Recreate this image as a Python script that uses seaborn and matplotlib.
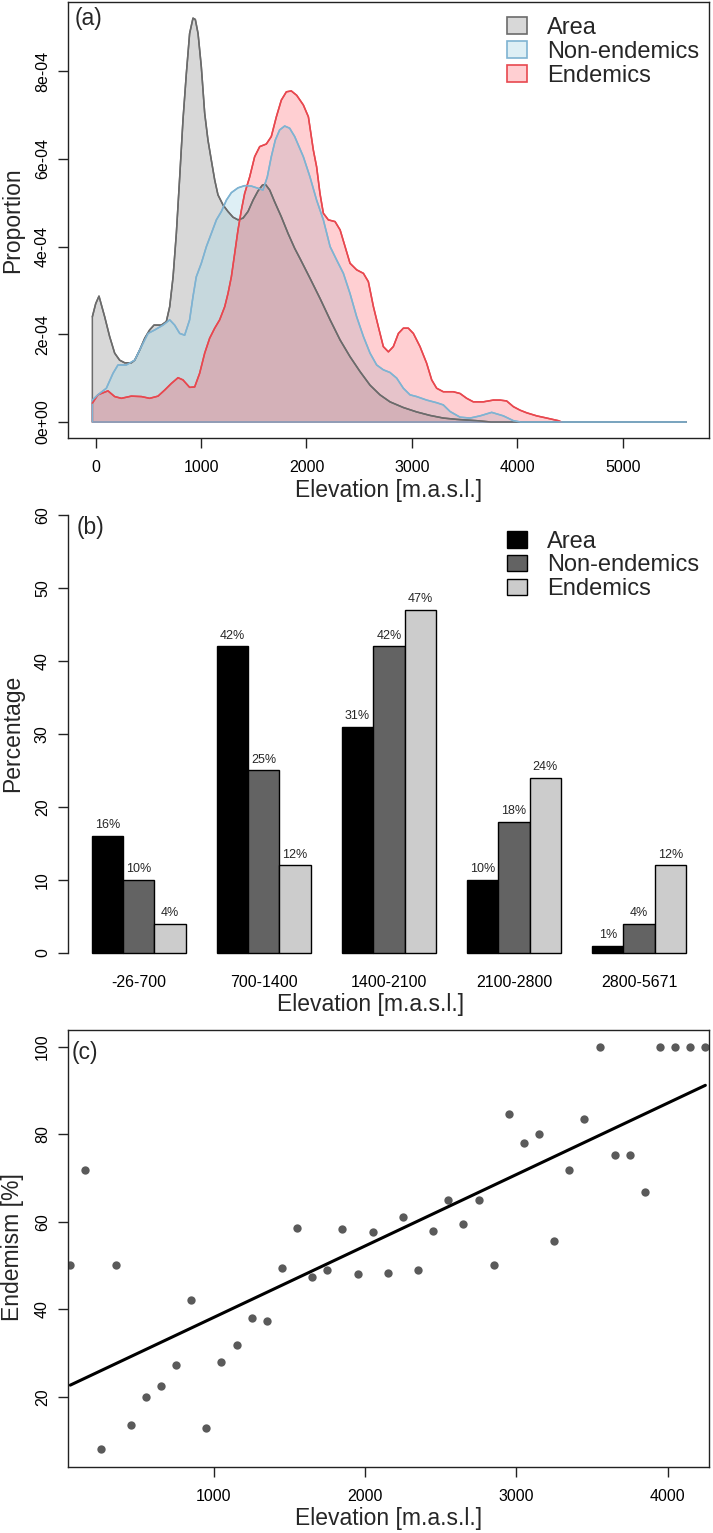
import numpy as np
import pandas as pd
import matplotlib
matplotlib.use("Agg")
import matplotlib.pyplot as plt
import seaborn as sns
from matplotlib.patches import Patch

sns.set_theme(style="white")
plt.rcParams['font.family'] = ['Liberation Sans', 'DejaVu Sans']
plt.rcParams['axes.edgecolor'] = '#222222'
plt.rcParams['axes.linewidth'] = 1.0

# ---------------- (a) density curves (units of 1e-4) ----------------
area_elev = [-32, 0, 31, 85, 132, 180, 227, 275, 338, 370, 417, 465, 512, 553, 623, 670, 702,
             734, 765, 797, 828, 860, 891, 923, 945, 971, 1002, 1034, 1065, 1097, 1129, 1160,
             1208, 1255, 1303, 1350, 1398, 1445, 1493, 1540, 1581, 1610, 1651, 1698, 1761,
             1825, 1888, 1938, 2033, 2128, 2224, 2319, 2413, 2508, 2603, 2697, 2792, 2919,
             3045, 3172, 3298, 3425, 3614, 3750, 5600]
area_dens = [2.40, 2.70, 2.87, 2.40, 1.95, 1.57, 1.41, 1.35, 1.35, 1.41, 1.64, 1.91, 2.10, 2.21,
             2.21, 2.29, 2.63, 3.31, 4.30, 5.59, 6.89, 7.95, 8.86, 9.21, 9.18, 8.86, 8.10, 7.04,
             6.43, 5.97, 5.52, 5.18, 4.95, 4.80, 4.67, 4.61, 4.65, 4.80, 5.06, 5.27, 5.40, 5.42,
             5.29, 5.02, 4.68, 4.30, 3.96, 3.73, 3.28, 2.82, 2.33, 1.87, 1.49, 1.15, 0.84, 0.62,
             0.46, 0.33, 0.23, 0.15, 0.09, 0.06, 0.03, 0.0, 0.0]

nonend_elev = [-32, 21, 101, 164, 211, 290, 370, 433, 496, 560, 638, 702, 749, 797, 844, 891,
               923, 954, 1002, 1050, 1097, 1145, 1192, 1240, 1287, 1350, 1413, 1477, 1540, 1587,
               1628, 1666, 1704, 1745, 1793, 1840, 1888, 1970, 2033, 2096, 2160, 2224, 2287,
               2350, 2413, 2476, 2540, 2603, 2666, 2729, 2792, 2856, 2919, 2982, 3045, 3140,
               3235, 3298, 3362, 3457, 3552, 3647, 3757, 3868, 3963, 4030, 5600]
nonend_dens = [0.50, 0.62, 0.77, 1.11, 1.30, 1.30, 1.41, 1.72, 2.02, 2.10, 2.21, 2.33, 2.21,
               2.02, 1.98, 2.33, 2.86, 3.31, 3.62, 4.00, 4.30, 4.61, 4.80, 5.06, 5.23, 5.34,
               5.39, 5.38, 5.33, 5.29, 5.59, 6.05, 6.43, 6.66, 6.75, 6.70, 6.51, 6.05, 5.59,
               5.06, 4.61, 4.00, 3.69, 3.39, 2.93, 2.40, 1.95, 1.57, 1.30, 1.19, 1.13, 1.00,
               0.77, 0.62, 0.58, 0.50, 0.44, 0.39, 0.24, 0.11, 0.09, 0.14, 0.22, 0.14, 0.03,
               0.0, 0.0]

end_elev = [-32, 21, 116, 180, 243, 338, 433, 512, 591, 655, 718, 781, 828, 891, 939, 986, 1034,
            1081, 1129, 1176, 1224, 1255, 1287, 1319, 1350, 1382, 1413, 1461, 1508, 1556, 1619,
            1666, 1714, 1761, 1809, 1856, 1907, 1970, 2018, 2065, 2096, 2128, 2160, 2207, 2271,
            2319, 2366, 2413, 2476, 2540, 2587, 2635, 2682, 2729, 2777, 2824, 2872, 2919, 2966,
            3014, 3077, 3140, 3188, 3235, 3298, 3393, 3457, 3520, 3583, 3678, 3773, 3836, 3899,
            3963, 4026, 4089, 4184, 4279, 4390, 4420]
end_dens = [0.43, 0.62, 0.71, 0.58, 0.54, 0.59, 0.58, 0.54, 0.59, 0.73, 0.88, 1.01, 0.96, 0.79,
            0.80, 1.11, 1.57, 1.91, 2.14, 2.33, 2.63, 2.93, 3.31, 3.85, 4.38, 4.83, 5.21, 5.59,
            6.05, 6.28, 6.34, 6.51, 6.96, 7.34, 7.53, 7.55, 7.45, 7.23, 6.96, 6.20, 5.82, 5.21,
            4.76, 4.61, 4.57, 4.38, 4.00, 3.62, 3.47, 3.39, 3.20, 2.63, 2.17, 1.72, 1.60, 1.72,
            2.02, 2.14, 2.14, 2.02, 1.72, 1.34, 0.96, 0.77, 0.69, 0.69, 0.65, 0.54, 0.46, 0.46,
            0.50, 0.50, 0.48, 0.35, 0.27, 0.21, 0.14, 0.09, 0.03, 0.0]

a_yticks = [0, 2e-4, 4e-4, 6e-4, 8e-4]
a_yticklabels = ['0e+00', '2e-04', '4e-04', '6e-04', '8e-04']
a_xticks = [0, 1000, 2000, 3000, 4000, 5000]

# ---------------- (b) percentage per elevation band ----------------
bands = ['-26-700', '700-1400', '1400-2100', '2100-2800', '2800-5671']
groups = ['Area', 'Non-endemics', 'Endemics']
area_pct = [16, 42, 31, 10, 1]
nonend_pct = [10, 25, 42, 18, 4]
end_pct = [4, 12, 47, 24, 12]

# ---------------- (c) endemism per 100 m band ----------------
band_mid = [50, 150, 250, 350, 450, 550, 650, 750, 850, 950, 1050, 1150, 1250, 1350, 1450,
            1550, 1650, 1750, 1850, 1950, 2050, 2150, 2250, 2350, 2450, 2550, 2650, 2750,
            2850, 2950, 3050, 3150, 3250, 3350, 3450, 3550, 3650, 3750, 3850, 3950, 4050,
            4150, 4250]
endemism = [50, 71.7, 8, 50, 13.5, 20, 22.4, 27.2, 42.1, 12.8, 28, 31.7, 37.9, 37.3, 49.4,
            58.6, 47.3, 49.0, 58.3, 48.0, 57.6, 48.3, 61.1, 49.0, 57.9, 64.9, 59.4, 64.9,
            50, 84.6, 77.9, 80, 55.6, 71.7, 83.4, 100, 75.2, 75.2, 66.8, 100, 100, 100, 100]

# colours
fill_cols = {'Area': (0.5, 0.5, 0.5, 0.30),
             'Non-endemics': (0.678, 0.847, 0.902, 0.40),
             'Endemics': (1.0, 0.25, 0.30, 0.25)}
line_cols = {'Area': '#6b6b6b', 'Non-endemics': '#7fb3d2', 'Endemics': '#e8484f'}
bar_cols = ['#000000', '#636363', '#cccccc']

W, H = 713, 1533
fig = plt.figure(figsize=(W / 100, H / 100), dpi=100)


def px_axes(x0, x1, y0, y1):
    return fig.add_axes([x0 / W, 1 - y1 / H, (x1 - x0) / W, (y1 - y0) / H])


TICK_FS = 11.5
LAB_FS = 16.5
LEG_FS = 17


def style_ticks(ax, xpad=8.7, ypad=5.8):
    ax.tick_params(axis='both', direction='out', length=7.2, width=1, color='#222222',
                   labelsize=TICK_FS, labelcolor='black', left=True, bottom=True)
    ax.tick_params(axis='x', pad=xpad)
    ax.tick_params(axis='y', pad=ypad)
    for lbl in ax.get_yticklabels():
        lbl.set_rotation(90)
        lbl.set_va('center')


# ---------------- panel (a) ----------------
ax_a = px_axes(68, 709.3, 1.7, 437.7)
curves = {
    'Area': (area_elev, area_dens),
    'Non-endemics': (nonend_elev, nonend_dens),
    'Endemics': (end_elev, end_dens),
}
for name in groups:
    xs, ys = curves[name]
    ax_a.fill_between(xs, np.array(ys) * 1e-4, 0, facecolor=fill_cols[name], edgecolor='none')
for name in ['Area', 'Endemics', 'Non-endemics']:
    xs, ys = curves[name]
    ax_a.fill_between(xs, np.array(ys) * 1e-4, 0, facecolor='none',
                      edgecolor=line_cols[name], linewidth=1.1)
    sns.lineplot(x=xs, y=np.array(ys) * 1e-4, color=line_cols[name], linewidth=1.1,
                 sort=False, estimator=None, ax=ax_a)
ax_a.set_xlim(-263, 5822)
ax_a.set_ylim(-0.358e-4, 9.585e-4)
ax_a.set_xticks(a_xticks)
ax_a.set_yticks(a_yticks, a_yticklabels)
ax_a.set_xlabel('')
ax_a.set_ylabel('')
style_ticks(ax_a)
ax_a.text(0.011, 0.9626, '(a)', transform=ax_a.transAxes, fontsize=LAB_FS, ha='left', va='center')
handles_a = [Patch(facecolor=fill_cols[g], edgecolor=line_cols[g], linewidth=1.2) for g in groups]
ax_a.legend(handles_a, groups, loc='upper left', bbox_to_anchor=(0.6845, 0.965), frameon=False,
            fontsize=LEG_FS, handlelength=0.85, handleheight=0.7, handletextpad=0.85,
            labelspacing=0.08, borderpad=0, borderaxespad=0)

# ---------------- panel (b) ----------------
ax_b = px_axes(68, 709.8, 497.5, 970.5)
df_b = pd.DataFrame({
    'band': bands * 3,
    'group': [g for g in groups for _ in bands],
    'pct': area_pct + nonend_pct + end_pct,
})
sns.barplot(data=df_b, x='band', y='pct', hue='group', hue_order=groups, order=bands,
            palette=bar_cols, saturation=1, width=0.75, gap=0, errorbar=None,
            edgecolor='black', linewidth=1, legend=False, ax=ax_b)
for cont, vals in zip(ax_b.containers, [area_pct, nonend_pct, end_pct]):
    ax_b.bar_label(cont, labels=[f'{v}%' for v in vals], padding=3.5, fontsize=9)
ax_b.set_xlim(-0.565, 4.565)
ax_b.set_ylim(-2.4, 62.4)
ax_b.set_yticks([0, 10, 20, 30, 40, 50, 60])
for s in ['top', 'right', 'bottom']:
    ax_b.spines[s].set_visible(False)
ax_b.spines['left'].set_bounds(0, 60)
ax_b.set_xlabel('')
ax_b.set_ylabel('')
style_ticks(ax_b)
ax_b.tick_params(axis='x', length=0, pad=3.3)
ax_b.text(0.014, 0.9376, '(b)', transform=ax_b.transAxes, fontsize=LAB_FS, ha='left', va='center')
handles_b = [Patch(facecolor=c, edgecolor='black', linewidth=1) for c in bar_cols]
ax_b.legend(handles_b, groups, loc='upper left', bbox_to_anchor=(0.684, 0.930), frameon=False,
            fontsize=LEG_FS, handlelength=0.85, handleheight=0.7, handletextpad=0.85,
            labelspacing=0.08, borderpad=0, borderaxespad=0)

# ---------------- panel (c) ----------------
ax_c = px_axes(68, 709.3, 1030, 1466.7)
df_c = pd.DataFrame({'elev': band_mid, 'endemism': endemism})
sns.scatterplot(data=df_c, x='elev', y='endemism', color='#5a5a5a', s=36, linewidth=0, ax=ax_c)
sns.regplot(data=df_c, x='elev', y='endemism', scatter=False, ci=None, color='black',
            line_kws={'linewidth': 2.2}, ax=ax_c)
ax_c.set_xlim(35, 4276)
ax_c.set_ylim(4.0, 103.8)
ax_c.set_xticks([1000, 2000, 3000, 4000])
ax_c.set_yticks([20, 40, 60, 80, 100])
ax_c.set_xlabel('')
ax_c.set_ylabel('')
style_ticks(ax_c)
ax_c.text(0.006, 0.9496, '(c)', transform=ax_c.transAxes, fontsize=LAB_FS, ha='left', va='center')

# axis titles
fig.text(388.6 / W, 1 - 490 / H, 'Elevation [m.a.s.l.]', fontsize=LAB_FS, ha='center', va='center')
fig.text(371 / W, 1 - 1005 / H, 'Elevation [m.a.s.l.]', fontsize=LAB_FS, ha='center', va='center')
fig.text(388.6 / W, 1 - 1518 / H, 'Elevation [m.a.s.l.]', fontsize=LAB_FS, ha='center', va='center')
fig.text(12.5 / W, 1 - 220 / H, 'Proportion', fontsize=LAB_FS, rotation=90, ha='center', va='center')
fig.text(12.5 / W, 1 - 733 / H, 'Percentage', fontsize=LAB_FS, rotation=90, ha='center', va='center')
fig.text(12.5 / W, 1 - 1247 / H, 'Endemism [%]', fontsize=LAB_FS, rotation=90, ha='center', va='center')

fig.savefig('out.png', dpi=100)
